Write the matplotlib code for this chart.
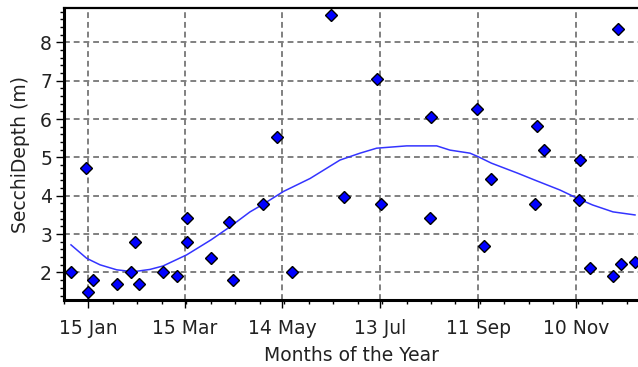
import matplotlib
matplotlib.use("Agg")
import matplotlib.pyplot as plt
from matplotlib.ticker import FixedLocator, MultipleLocator

# Data (day of year, Secchi depth in m)
sample_day = [4.4, 13.4, 15.0, 18.1, 32.4, 41.4, 43.6, 46.3, 60.8, 69.5,
              75.7, 75.7, 90.2, 101.2, 103.9, 122.2, 130.8, 139.6, 163.7, 171.5,
              192.1, 194.5, 224.2, 225.2, 253.4, 257.3, 261.6, 290.0, 294.0, 288.9,
              316.1, 315.9, 322.4, 336.7, 339.4, 341.6, 349.8]
sample_depth = [2.01, 4.73, 1.48, 1.81, 1.70, 2.01, 2.79, 1.70, 2.01, 1.90,
                3.42, 2.79, 2.37, 3.31, 1.81, 3.78, 5.53, 2.01, 8.72, 3.97,
                7.04, 3.79, 3.41, 6.04, 6.25, 2.69, 4.43, 5.83, 5.20, 3.79,
                4.94, 3.89, 2.12, 1.90, 8.34, 2.22, 2.28]

trend_day = [4.4, 14, 22.2, 32.4, 42.6, 52.8, 60.8, 75.3, 90.2, 101.8,
             114.1, 122.2, 134.5, 150.9, 169.2, 181.5, 191.7, 210.1, 228.5, 236.6,
             248.9, 253.8, 262, 278, 288.5, 304, 315.9, 324, 336.5, 350]
trend_depth = [2.72, 2.37, 2.20, 2.07, 2.02, 2.08, 2.17, 2.46, 2.85, 3.19,
               3.58, 3.78, 4.11, 4.45, 4.93, 5.11, 5.24, 5.30, 5.30, 5.19,
               5.11, 5.02, 4.85, 4.59, 4.41, 4.15, 3.91, 3.76, 3.58, 3.50]

tick_days = [15, 74, 134, 194, 254, 314]
tick_labels = ["15 Jan", "15 Mar", "14 May", "13 Jul", "11 Sep", "10 Nov"]

W, H = 638, 367
fig = plt.figure(figsize=(W / 100, H / 100), dpi=100)
x0, y_bot, y_top = 63.8, 300.0, 8.3
ax = fig.add_axes([x0 / W, (H - y_bot) / H, 1 - x0 / W, (y_bot - y_top) / H])

txt = "#222222"
fs = 13.5

ax.plot(trend_day, trend_depth, color="#3434ff", lw=1.1, zorder=3)
ax.plot(sample_day, sample_depth, linestyle="none", marker="D", ms=6.2,
        mfc="#0000ff", mec="black", mew=1.0, zorder=4, clip_on=False)

ax.set_xlim(0, (W - x0) / 1.632)
ax.set_ylim(1.283, 8.886)

ax.xaxis.set_major_locator(FixedLocator(tick_days))
ax.set_xticklabels(tick_labels)
ax.xaxis.set_minor_locator(MultipleLocator(15))
ax.yaxis.set_major_locator(FixedLocator([2, 3, 4, 5, 6, 7, 8]))
ax.yaxis.set_minor_locator(MultipleLocator(0.2))

ax.grid(True, which="major", color="#808080", lw=1.4, linestyle=(0, (3, 2)), zorder=1)
ax.set_axisbelow(True)

ax.tick_params(axis="both", which="major", direction="out", length=5.5, width=1.0,
               colors="black", labelcolor=txt, labelsize=fs)
ax.tick_params(axis="both", which="minor", direction="out", length=3, width=1.0, colors="black")
ax.tick_params(axis="x", which="major", pad=8.3)
ax.tick_params(axis="y", which="major", pad=3)

for side in ("left", "bottom"):
    ax.spines[side].set_linewidth(2.2)
ax.spines["top"].set_linewidth(1.6)
ax.spines["right"].set_visible(False)

ax.set_xlabel("Months of the Year", fontsize=fs, color=txt, va="center")
ax.xaxis.set_label_coords((352 - x0) / (W - x0), (y_bot - 355.5) / (y_bot - y_top))
ax.set_ylabel("SecchiDepth (m)", fontsize=fs, color=txt, va="center")
ax.yaxis.set_label_coords(-(x0 - 20.5) / (W - x0), 0.5)

fig.savefig("out.png", dpi=100)
